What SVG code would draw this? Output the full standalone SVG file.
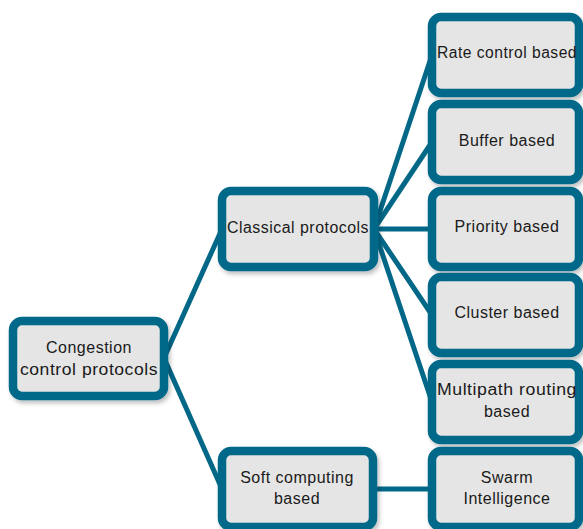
<svg xmlns="http://www.w3.org/2000/svg" width="583" height="529" viewBox="0 0 583 529">
<defs>
<filter id="sh" x="-10%" y="-10%" width="125%" height="130%">
<feDropShadow dx="2" dy="3" stdDeviation="2" flood-color="#000" flood-opacity="0.25"/>
</filter>
<style>
.box{fill:#e5e5e5;stroke:#036888;stroke-width:8.5;filter:url(#sh)}
.ln{stroke:#036888;stroke-width:5;fill:none;stroke-linecap:round}
text{font-family:"Liberation Sans",Arial,sans-serif;font-size:16px;letter-spacing:0.5px;fill:#1a1a1a;text-anchor:middle}
</style>
</defs>
<rect width="583" height="529" fill="#fff"/>
<g id="connectors">
<line class="ln" x1="164" y1="358" x2="222" y2="229"/>
<line class="ln" x1="164" y1="358" x2="222" y2="489"/>
<line class="ln" x1="374" y1="229" x2="432" y2="55"/>
<line class="ln" x1="374" y1="229" x2="432" y2="142"/>
<line class="ln" x1="374" y1="229" x2="432" y2="229"/>
<line class="ln" x1="374" y1="229" x2="432" y2="315"/>
<line class="ln" x1="374" y1="229" x2="432" y2="402"/>
<line class="ln" x1="373" y1="489" x2="432" y2="489"/>
</g>
<g id="root">
<rect class="box" x="13" y="321" width="151" height="75" rx="9"/>
<text x="89" y="353">Congestion</text>
<text x="89" y="375" textLength="138" lengthAdjust="spacingAndGlyphs">control protocols</text>
</g>
<g id="classical">
<rect class="box" x="222" y="191" width="152" height="76" rx="9"/>
<text x="298" y="233" textLength="142" lengthAdjust="spacingAndGlyphs">Classical protocols</text>
</g>
<g id="soft">
<rect class="box" x="222" y="451" width="151" height="76" rx="9"/>
<text x="297" y="483">Soft computing</text>
<text x="297" y="504">based</text>
</g>
<g id="rate">
<rect class="box" x="432" y="17" width="147" height="76" rx="9"/>
<text x="507" y="58" textLength="140" lengthAdjust="spacingAndGlyphs">Rate control based</text>
</g>
<g id="buffer">
<rect class="box" x="432" y="104" width="147" height="76" rx="9"/>
<text x="507" y="146">Buffer based</text>
</g>
<g id="priority">
<rect class="box" x="432" y="191" width="147" height="76" rx="9"/>
<text x="507" y="232">Priority based</text>
</g>
<g id="cluster">
<rect class="box" x="432" y="277" width="147" height="76" rx="9"/>
<text x="507" y="318">Cluster based</text>
</g>
<g id="multipath">
<rect class="box" x="432" y="364" width="147" height="76" rx="9"/>
<text x="507" y="395" textLength="140" lengthAdjust="spacingAndGlyphs">Multipath routing</text>
<text x="507" y="417">based</text>
</g>
<g id="swarm">
<rect class="box" x="432" y="451" width="147" height="76" rx="9"/>
<text x="507" y="483">Swarm</text>
<text x="507" y="504">Intelligence</text>
</g>
</svg>
